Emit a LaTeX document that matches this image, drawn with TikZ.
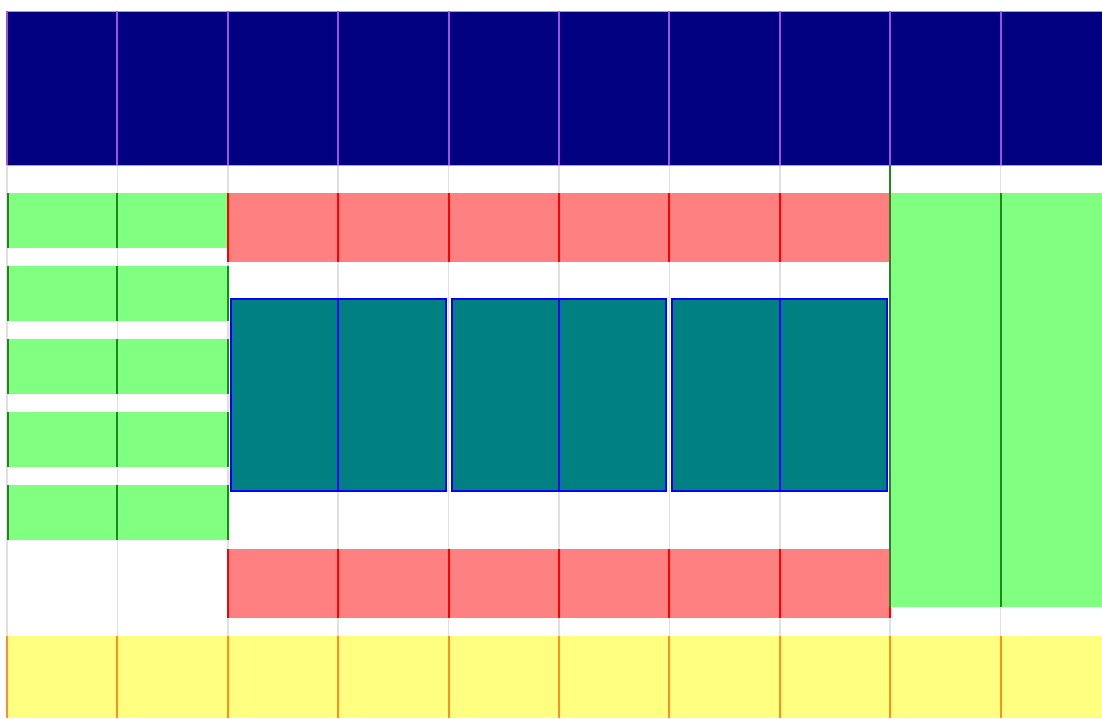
\documentclass[tikz,border=0pt]{standalone}
\begin{document}
\begin{tikzpicture}[x=0.75pt,y=-0.75pt,
  grid/.style={draw=black!12,line width=1.1pt},
  tealbox/.style={fill=teal,draw=blue,line width=1.4pt},
  sep/.style={line width=1.5pt}]
\definecolor{navy}{HTML}{000080}
\definecolor{navyedge}{HTML}{6A5ACD}
\definecolor{purp}{HTML}{9955DD}
\definecolor{lgreen}{HTML}{80FF80}
\definecolor{dgreen}{HTML}{1A8A1A}
\definecolor{lred}{HTML}{FF8080}
\definecolor{teal}{HTML}{008080}
\definecolor{lyellow}{HTML}{FFFF80}
\definecolor{orng}{HTML}{FF9020}
\useasboundingbox (0,0) rectangle (1102,718);
\fill[white] (0,0) rectangle (1102,718);
\clip (0,0) rectangle (1102,718);
% gray grid
\foreach \i in {0,...,10} {
  \draw[grid] ({7+110.4*\i},11) -- ({7+110.4*\i},718);
}
% navy band
\fill[navy] (7,11) rectangle (1120,165);
\draw[navyedge!60,line width=0.6pt] (7,11) -- (1120,11) (7,165) -- (1120,165);
\foreach \i in {0,...,9} {
  \draw[purp,line width=1.4pt] ({7+110.4*\i},11) -- ({7+110.4*\i},165);
}
% left green bars
\foreach \y in {193,266,339,412,485} {
  \fill[lgreen] (7,\y) rectangle (228,\y+55);
  \foreach \x in {7.5,117.4,227.8} {
    \draw[dgreen,sep] (\x,\y) -- (\x,\y+55);
  }
}
% red bands
\foreach \y in {193,549} {
  \fill[lred] (228,\y) rectangle (890,\y+69);
  \foreach \i in {2,...,8} {
    \draw[red,sep] ({7+110.4*\i},\y) -- ({7+110.4*\i},\y+69);
  }
}
% teal boxes
\foreach \a/\b/\m in {231/446/338.2,452/666/559,672/887/779.8} {
  \filldraw[tealbox] (\a,299) rectangle (\b,491);
  \draw[blue,sep] (\m,299) -- (\m,491);
}
% right green block
\fill[lgreen] (890,193) rectangle (1120,607);
\draw[dgreen,sep] (890.2,165) -- (890.2,607);
\draw[dgreen,sep] (1000.6,193) -- (1000.6,607);
% yellow band
\fill[lyellow] (7,636) rectangle (1120,718);
\foreach \i in {0,...,9} {
  \draw[orng,line width=1.5pt] ({7+110.4*\i},636) -- ({7+110.4*\i},718);
}
\end{tikzpicture}
\end{document}
